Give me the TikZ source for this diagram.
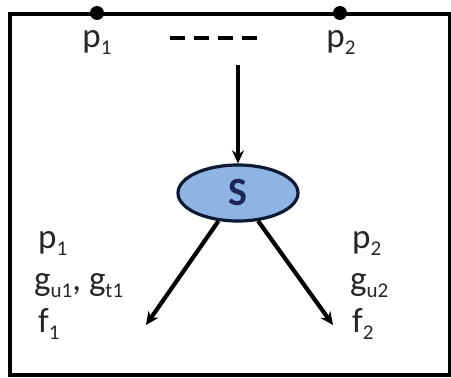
\documentclass[tikz,border=0pt]{standalone}
\usepackage{fontspec}
\setmainfont{Carlito}
\usetikzlibrary{arrows.meta,shapes.geometric}
\tikzset{>={Stealth[length=13pt,width=12pt]}}
\definecolor{sfill}{HTML}{8EB4E3}
\definecolor{sline}{HTML}{0E1A33}
\definecolor{stext}{HTML}{1C2657}
\newcommand{\lsub}[1]{\raisebox{-0.22em}{\fontsize{21}{21}\selectfont #1}}
\tikzset{
  lbl/.style={font=\fontsize{35}{35}\selectfont,text=black!85,inner sep=0pt,anchor=base},
  lblw/.style={lbl,anchor=base west},
  thick3/.style={line width=4.2pt},
  dot/.style={circle,fill=black,inner sep=0pt,minimum size=14pt}
}

\begin{document}
\begin{tikzpicture}[x=1pt,y=-1pt]
\useasboundingbox (0,0) rectangle (451,378);
\draw[thick3] (10,14) rectangle (450,375);
% top points
\node[dot] (d1) at (97,13) {};
\node[dot] (d2) at (340,13) {};
\node[lbl] (p1) at (97,47) {p\lsub{1}};
\node[lbl] (p2) at (341,47) {p\lsub{2}};
\draw[thick3,dash pattern=on 15pt off 9pt] (170,38) -- (259,38);
\coordinate (top) at (238,65);
% source
\node[ellipse,draw=sline,fill=sfill,line width=3.2pt,minimum width=120pt,minimum height=56pt,
  font=\fontsize{40}{40}\selectfont\bfseries,text=stext] (s) at (238,193) {S};
\draw[thick3,->] (top) -- (s);
\coordinate (l1) at (146,325);
\coordinate (r1) at (333,325);
\draw[thick3,->] (s) -- (l1);
\draw[thick3,->] (s) -- (r1);
% left labels
\node[lblw] (lp) at (38,248) {p\lsub{1}};
\node[lblw] (lg) at (34,290) {g\lsub{u1}, g\lsub{t1}};
\node[lblw] (lf) at (38,332) {f\lsub{1}};
% right labels
\node[lblw] (rp) at (352,248) {p\lsub{2}};
\node[lblw] (rg) at (350,290) {g\lsub{u2}};
\node[lblw] (rf) at (352,332) {f\lsub{2}};
\end{tikzpicture}
\end{document}
